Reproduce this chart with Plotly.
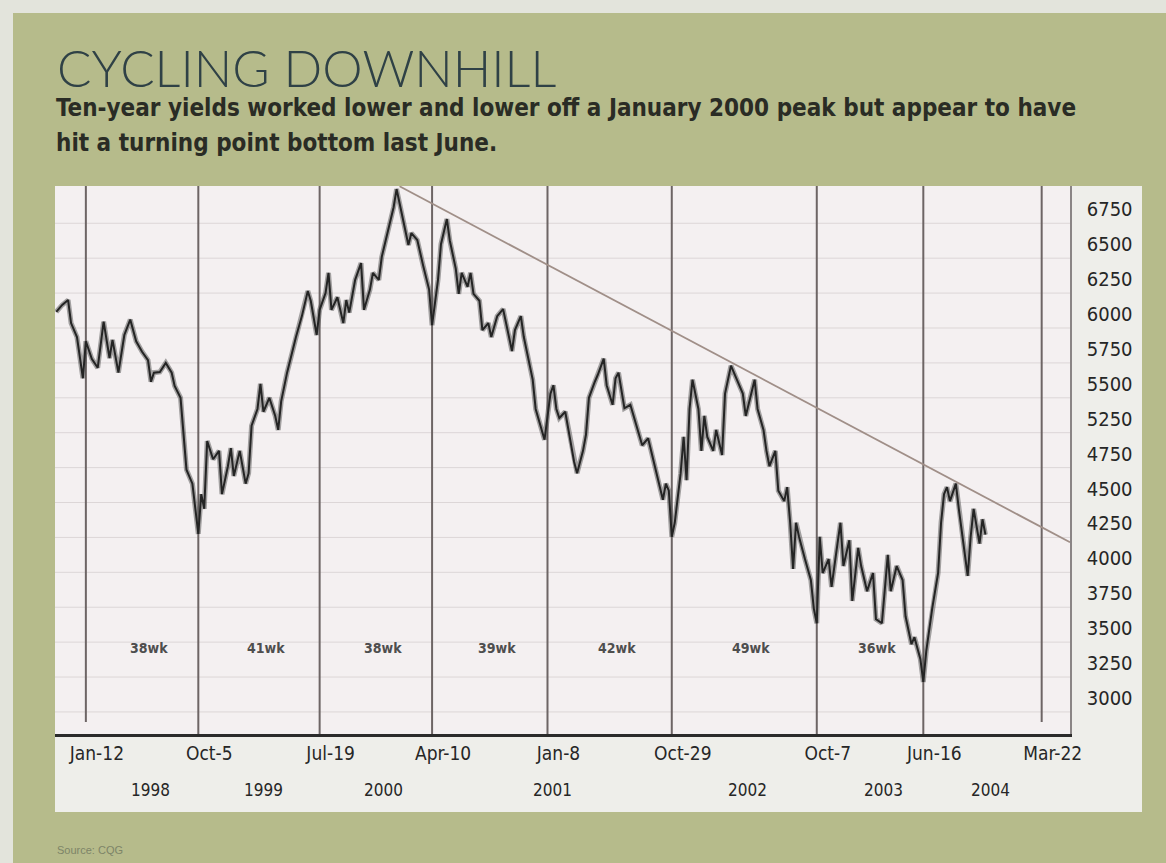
import numpy as np
import pandas as pd
import plotly.graph_objects as go

# ---------------------------------------------------------------- data
START = pd.Timestamp("1998-01-12")

# Cycle lows marked by vertical lines and their axis labels
cycle_dates = ["1998-01-12", "1998-10-05", "1999-07-19", "2000-04-10", "2001-01-08",
               "2001-10-29", "2002-10-07", "2003-06-16", "2004-03-22"]
cycle_tick_labels = ["Jan-12", "Oct-5", "Jul-19", "Apr-10", "Jan-8",
                     "Oct-29", "Oct-7", "Jun-16", "Mar-22"]
cycle_weeks = [38, 41, 38, 39, 42, 49, 36]

year_labels = ["1998", "1999", "2000", "2001", "2002", "2003", "2004"]
year_label_dates = ["1998-06-15", "1999-03-09", "1999-12-16", "2001-01-19",
                    "2002-04-25", "2003-03-14", "2003-11-21"]

y_tick_values = [3000, 3250, 3500, 3750, 4000, 4250, 4500, 4750,
                 5000, 5250, 5500, 5750, 6000, 6250, 6500]
y_tick_labels = ["3000", "3250", "3500", "3750", "4000", "4250", "4500", "4750",
                 "5250", "5500", "5750", "6000", "6250", "6500", "6750"]
grid_levels = [2900, 3150, 3400, 3650, 3900, 4150, 4400, 4650,
               4900, 5150, 5400, 5650, 5900, 6150, 6400]

# Ten-year yield (x1000), week offsets counted from Jan 12, 1998
weeks = [-10, -8, -6, -5, -3, -1, 0, 2, 4, 6, 8, 9, 11, 13, 15, 17, 19, 21, 22, 23,
         25, 27, 29, 30, 32, 33, 34, 36, 38, 39, 40, 41, 43, 45, 46, 48, 49, 50, 52, 54,
         55, 56, 58, 59, 60, 62, 64, 65, 66, 68, 70, 71, 73, 75, 76, 78, 79, 81, 82, 83,
         85, 87, 88, 89, 91, 93, 94, 96, 97, 99, 100, 102, 104, 105, 107, 109, 110, 112, 114, 116,
         117, 119, 120, 122, 123, 125, 126, 127, 129, 130, 131, 133, 134, 136, 137, 139, 141, 142, 144, 145,
         147, 148, 149, 151, 152, 154, 155, 157, 158, 159, 160, 162, 163, 165, 166, 168, 169, 170, 172, 173,
         175, 176, 178, 179, 180, 182, 184, 186, 188, 190, 192, 193, 195, 196, 197, 198, 199, 201, 202, 203,
         204, 205, 207, 208, 209, 210, 212, 213, 215, 216, 217, 218, 220, 222, 223, 225, 226, 227, 229, 230,
         231, 233, 234, 236, 237, 238, 239, 240, 241, 243, 245, 246, 247, 248, 249, 251, 252, 254, 255, 256,
         258, 259, 261, 262, 264, 266, 267, 269, 271, 272, 274, 276, 277, 279, 280, 282, 283, 284, 285, 286,
         288, 289, 290, 291, 292, 294, 295, 296, 298, 299, 300, 302, 303, 304]
values = [5765, 5815, 5850, 5685, 5585, 5290, 5555, 5430, 5365, 5695, 5435, 5565, 5330, 5600, 5710, 5555, 5480, 5420, 5265, 5330,
          5335, 5400, 5330, 5235, 5150, 4905, 4635, 4535, 4175, 4460, 4355, 4840, 4710, 4770, 4460, 4660, 4790, 4590, 4770, 4535,
          4610, 4950, 5070, 5250, 5050, 5150, 5020, 4920, 5125, 5330, 5505, 5585, 5735, 5915, 5845, 5600, 5780, 5900, 6045, 5780,
          5870, 5685, 5850, 5760, 5995, 6115, 5780, 5925, 6045, 5995, 6160, 6330, 6515, 6645, 6455, 6245, 6330, 6280, 6095, 5925,
          5670, 5995, 6250, 6430, 6275, 6075, 5895, 6045, 5945, 6045, 5895, 5845, 5635, 5685, 5585, 5735, 5785, 5685, 5485, 5635,
          5735, 5585, 5485, 5280, 5070, 4920, 4850, 5180, 5240, 5070, 5005, 5050, 4935, 4690, 4610, 4770, 4885, 5150, 5265, 5315,
          5430, 5240, 5100, 5290, 5330, 5075, 5100, 4955, 4810, 4860, 4690, 4595, 4420, 4535, 4485, 4155, 4255, 4610, 4870, 4560,
          5070, 5280, 5070, 4770, 5020, 4870, 4770, 4920, 4740, 5180, 5280, 5380, 5280, 5180, 5020, 5180, 5280, 5070, 4920, 4770,
          4660, 4770, 4485, 4410, 4510, 4255, 3925, 4255, 4155, 3995, 3845, 3640, 3535, 4155, 3895, 3995, 3795, 4105, 4255, 3945,
          4130, 3695, 4075, 3945, 3765, 3895, 3565, 3535, 4025, 3765, 3945, 3845, 3585, 3385, 3435, 3280, 3115, 3335, 3485, 3640,
          3895, 4255, 4460, 4510, 4410, 4535, 4355, 4205, 3875, 4155, 4355, 4105, 4280, 4170]

# Downtrend line drawn from the January 2000 peak
trend_dates = ["2000-01-24", "2004-05-28"]
trend_values = [6665, 4115]

dates = START + pd.to_timedelta(np.array(weeks) * 7, unit="D")

# ---------------------------------------------------------------- geometry
W, H = 1166, 863
L, R, T, B = 55, 1070, 186, 734          # plot area in pixels


def px_x(p):
    return (p - L) / (R - L)


def px_y(p):
    return (B - p) / (B - T)


GREEN = "#b6bb8b"
SCAN_EDGE = "#e3e4dc"
PANEL = "#eeeeea"
PLOT_BG = "#f4f0f1"
COND = "DejaVu Sans Condensed"
LABEL_COLOR = "#262626"

fig = go.Figure()

# price path: soft underlay for the bar texture, then the dark line
fig.add_trace(go.Scatter(x=dates, y=values, mode="lines",
                         line=dict(color="rgba(80,80,80,0.5)", width=5),
                         hoverinfo="skip", showlegend=False))
fig.add_trace(go.Scatter(x=dates, y=values, mode="lines",
                         line=dict(color="#242424", width=2),
                         showlegend=False))
fig.add_trace(go.Scatter(x=pd.to_datetime(trend_dates), y=trend_values, mode="lines",
                         line=dict(color="#a08f88", width=1.8),
                         hoverinfo="skip", showlegend=False))

shapes = [
    dict(type="rect", xref="paper", yref="paper", layer="below",
         x0=px_x(0), x1=px_x(W), y0=px_y(13), y1=px_y(0),
         fillcolor=SCAN_EDGE, line=dict(width=0)),
    dict(type="rect", xref="paper", yref="paper", layer="below",
         x0=px_x(0), x1=px_x(13), y0=px_y(H), y1=px_y(0),
         fillcolor=SCAN_EDGE, line=dict(width=0)),
    dict(type="rect", xref="paper", yref="paper", layer="below",
         x0=px_x(55), x1=px_x(1142), y0=px_y(812), y1=px_y(186),
         fillcolor=PANEL, line=dict(width=0)),
    dict(type="rect", xref="paper", yref="paper", layer="below",
         x0=0, x1=1, y0=0, y1=1, fillcolor=PLOT_BG, line=dict(width=0)),
]
for g in grid_levels:
    shapes.append(dict(type="line", xref="paper", yref="y", layer="below",
                       x0=0, x1=1, y0=g, y1=g,
                       line=dict(color="#dcd6d7", width=1)))
# the outer two cycle lines stop just short of the axis
for i, d in enumerate(cycle_dates):
    bottom = px_y(722) if i in (0, len(cycle_dates) - 1) else 0
    shapes.append(dict(type="line", xref="x", yref="paper", layer="below",
                       x0=d, x1=d, y0=bottom, y1=1,
                       line=dict(color="#6d6565", width=2)))

annotations = []
# cycle length labels, centred in each cycle
cyc = pd.to_datetime(cycle_dates)
for i, w in enumerate(cycle_weeks):
    mid = cyc[i] + (cyc[i + 1] - cyc[i]) / 2
    annotations.append(dict(x=mid, y=px_y(648), xref="x", yref="paper",
                            yanchor="middle", text=f"{w}wk", showarrow=False, xshift=7,
                            font=dict(family=COND, size=14,
                                      color="#4e4e4e", weight="bold")))
for txt, d in zip(year_labels, year_label_dates):
    annotations.append(dict(x=d, y=px_y(790), xref="x", yref="paper",
                            yanchor="middle", text=txt, showarrow=False,
                            font=dict(family=COND, size=17, color=LABEL_COLOR)))

subtitle_lines = ["Ten-year yields worked lower and lower off a January 2000 peak but appear to have",
                  "hit a turning point bottom last June."]

annotations += [
    dict(x=px_x(55), y=px_y(68), xref="paper", yref="paper", xanchor="left",
         yanchor="middle", text="CYCLING DOWNHILL", showarrow=False,
         font=dict(family="Lato", size=51, color="#2f4146", weight=300)),
    dict(x=px_x(54), y=px_y(108), xref="paper", yref="paper", xanchor="left",
         yanchor="middle", showarrow=False, text=subtitle_lines[0],
         font=dict(family=COND, size=24, color="#2a2c25", weight="bold")),
    dict(x=px_x(54), y=px_y(143), xref="paper", yref="paper", xanchor="left",
         yanchor="middle", showarrow=False, text=subtitle_lines[1],
         font=dict(family=COND, size=24, color="#2a2c25", weight="bold")),
    dict(x=px_x(55), y=px_y(850), xref="paper", yref="paper", xanchor="left",
         yanchor="middle", text="Source: CQG", showarrow=False,
         font=dict(family="Arial, Liberation Sans", size=11, color="#7d8468")),
]

fig.update_layout(
    width=W, height=H, autosize=False,
    margin=dict(l=L, r=W - R, t=T, b=H - B, pad=0),
    paper_bgcolor=GREEN, plot_bgcolor="rgba(0,0,0,0)",
    shapes=shapes, annotations=annotations, showlegend=False,
    xaxis=dict(type="date", range=["1997-10-31", "2004-05-28"],
               tickvals=cycle_dates, ticktext=cycle_tick_labels,
               ticks="", showgrid=False, zeroline=False,
               showline=True, linecolor="#2b2b2b", linewidth=3,
               ticklabelshift=11, ticklabelstandoff=0,
               tickfont=dict(family=COND, size=19, color=LABEL_COLOR)),
    yaxis=dict(range=[2742, 6667], side="right",
               tickvals=y_tick_values, ticktext=y_tick_labels,
               ticks="", showgrid=False, zeroline=False,
               showline=True, linecolor="#8a8585", linewidth=1.5,
               ticklabelstandoff=11,
               tickfont=dict(family=COND, size=20, color=LABEL_COLOR)),
)

fig.write_html("out.html")
